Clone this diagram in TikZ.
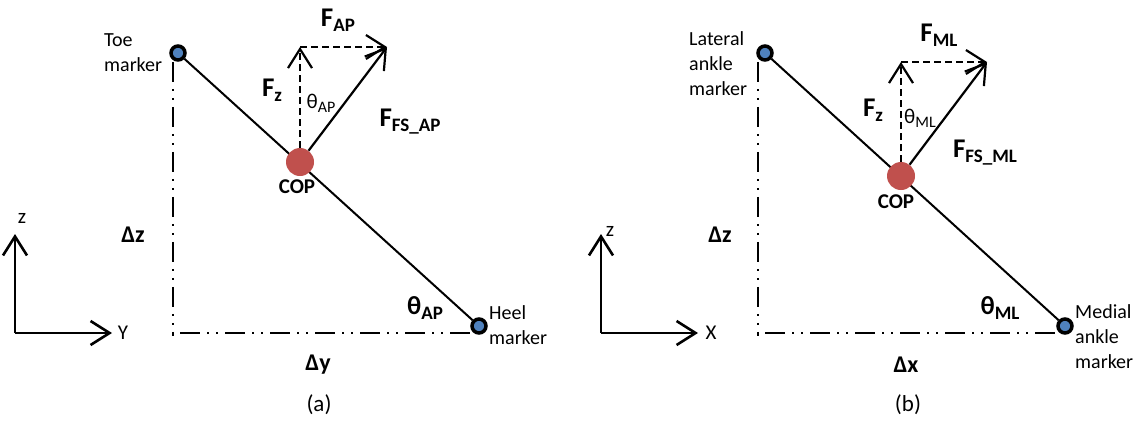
\documentclass[tikz,border=0pt]{standalone}
\usepackage{fontspec}
\setmainfont{Carlito}
\usepackage{xcolor}
\usetikzlibrary{arrows.meta,backgrounds}
\definecolor{markerblue}{RGB}{79,129,189}
\definecolor{copred}{RGB}{192,80,77}
\newcommand{\fsz}[1]{\fontsize{#1}{#1}\selectfont}
\newcommand{\forcelbl}[1]{\textbf{\fsz{27}F\raisebox{-5pt}{\fsz{19}#1}}}
\newcommand{\anglelbl}[1]{{\fsz{21}θ\raisebox{-4pt}{\fsz{16}#1}}}
\newcommand{\anglebig}[1]{\textbf{\fsz{26}θ\raisebox{-5pt}{\fsz{19}#1}}}

\begin{document}
\begin{tikzpicture}[
  x=1pt, y=-1pt,
  marker/.style={circle, draw, line width=3.5pt, fill=markerblue, minimum size=14pt, inner sep=0pt},
  cop/.style={circle, fill=copred, minimum size=28pt, inner sep=0pt},
  txt/.style={align=left, inner sep=0pt, font={\fontsize{20}{25}\selectfont}},
  lbl/.style={inner sep=0pt},
  foot/.style={line width=2pt},
  force/.style={line width=2.2pt, -{Straight Barb[length=19pt,width=24pt]}},
  comp/.style={force, dash pattern=on 7pt off 4pt},
  guide/.style={line width=2.4pt, dash pattern=on 20pt off 7pt on 2pt off 7pt on 2pt off 7pt},
  axis/.style={line width=2.6pt, -{Straight Barb[length=19pt,width=24pt]}},
]
\useasboundingbox (0,0) rectangle (1141,424);

% (a) anterior-posterior
\node[marker] (toe) at (178,53) {};
\node[marker] (heel) at (479,326) {};
\node[cop] (copa) at (300,162) {};
\coordinate (fza) at (300,47);
\coordinate (fapa) at (387,47);
\coordinate (cornera) at (173,333);
\coordinate (oa) at (15,333);
\coordinate (za) at (15,234);
\coordinate (ya) at (112,333);

\node[txt, anchor=west] (toelbl) at (104,53) {Toe\\marker};
\node[txt, anchor=west] (heellbl) at (489,325) {Heel\\marker};
\node[lbl] (fapl) at (338,20) {\forcelbl{AP}};
\node[lbl] (fzla) at (272,90) {\forcelbl{z}};
\node[lbl] (thupa) at (321,103) {\anglelbl{AP}};
\node[lbl] (ffsa) at (410,122) {\forcelbl{FS\_AP}};
\node[lbl] (copla) at (297,187) {\textbf{\fsz{21}COP}};
\node[lbl] (dza) at (133,235) {\textbf{\fsz{24}Δz}};
\node[lbl] (thloa) at (425,308) {\anglebig{AP}};
\node[lbl] (dya) at (318,365) {\textbf{\fsz{24}Δy}};
\node[lbl] (capa) at (319,405) {\fsz{23}(a)};
\node[lbl] (zla) at (22,218) {\fsz{21}z};
\node[lbl] (yla) at (123,333) {\fsz{21}Y};

\begin{scope}[on background layer]
\draw[foot] (toe) -- (heel);
\end{scope}
\draw[comp] (copa.north) -- (fza);
\draw[comp] (fza) -- (fapa);
\draw[force] (copa) -- (fapa);
\draw[guide] (cornera |- toe.south) -- ([yshift=-3pt]cornera);
\draw[guide] ([xshift=7pt]cornera) -- (cornera -| heel.west);
\draw[axis] (oa) -- (za);
\draw[axis] (oa) -- (ya);

% (b) medial-lateral
\node[marker] (lat) at (765,53) {};
\node[marker] (med) at (1065,326) {};
\node[cop] (copb) at (901,176) {};
\coordinate (fzb) at (901,62);
\coordinate (fmlb) at (987,62);
\coordinate (cornerb) at (758,333);
\coordinate (ob) at (601,333);
\coordinate (zb) at (601,234);
\coordinate (xb) at (698,333);

\node[txt, anchor=west] (latlbl) at (689,64) {Lateral\\ankle\\marker};
\node[txt, anchor=west] (medlbl) at (1075,337) {Medial\\ankle\\marker};
\node[lbl] (fmll) at (939,35) {\forcelbl{ML}};
\node[lbl] (fzlb) at (873,110) {\forcelbl{z}};
\node[lbl] (thupb) at (920,118) {\anglelbl{ML}};
\node[lbl] (ffsb) at (985,153) {\forcelbl{FS\_ML}};
\node[lbl] (coplb) at (896,202) {\textbf{\fsz{21}COP}};
\node[lbl] (dzb) at (720,235) {\textbf{\fsz{24}Δz}};
\node[lbl] (thlob) at (1000,308) {\anglebig{ML}};
\node[lbl] (dxb) at (906,365) {\textbf{\fsz{24}Δx}};
\node[lbl] (capb) at (908,405) {\fsz{23}(b)};
\node[lbl] (zlb) at (610,231) {\fsz{21}z};
\node[lbl] (xlb) at (711,333) {\fsz{21}X};

\begin{scope}[on background layer]
\draw[foot] (lat) -- (med);
\end{scope}
\draw[comp] (copb.north) -- (fzb);
\draw[comp] (fzb) -- (fmlb);
\draw[force] (copb) -- (fmlb);
\draw[guide] (cornerb |- lat.south) -- ([yshift=-3pt]cornerb);
\draw[guide] ([xshift=7pt]cornerb) -- (cornerb -| med.west);
\draw[axis] (ob) -- (zb);
\draw[axis] (ob) -- (xb);
\end{tikzpicture}
\end{document}
